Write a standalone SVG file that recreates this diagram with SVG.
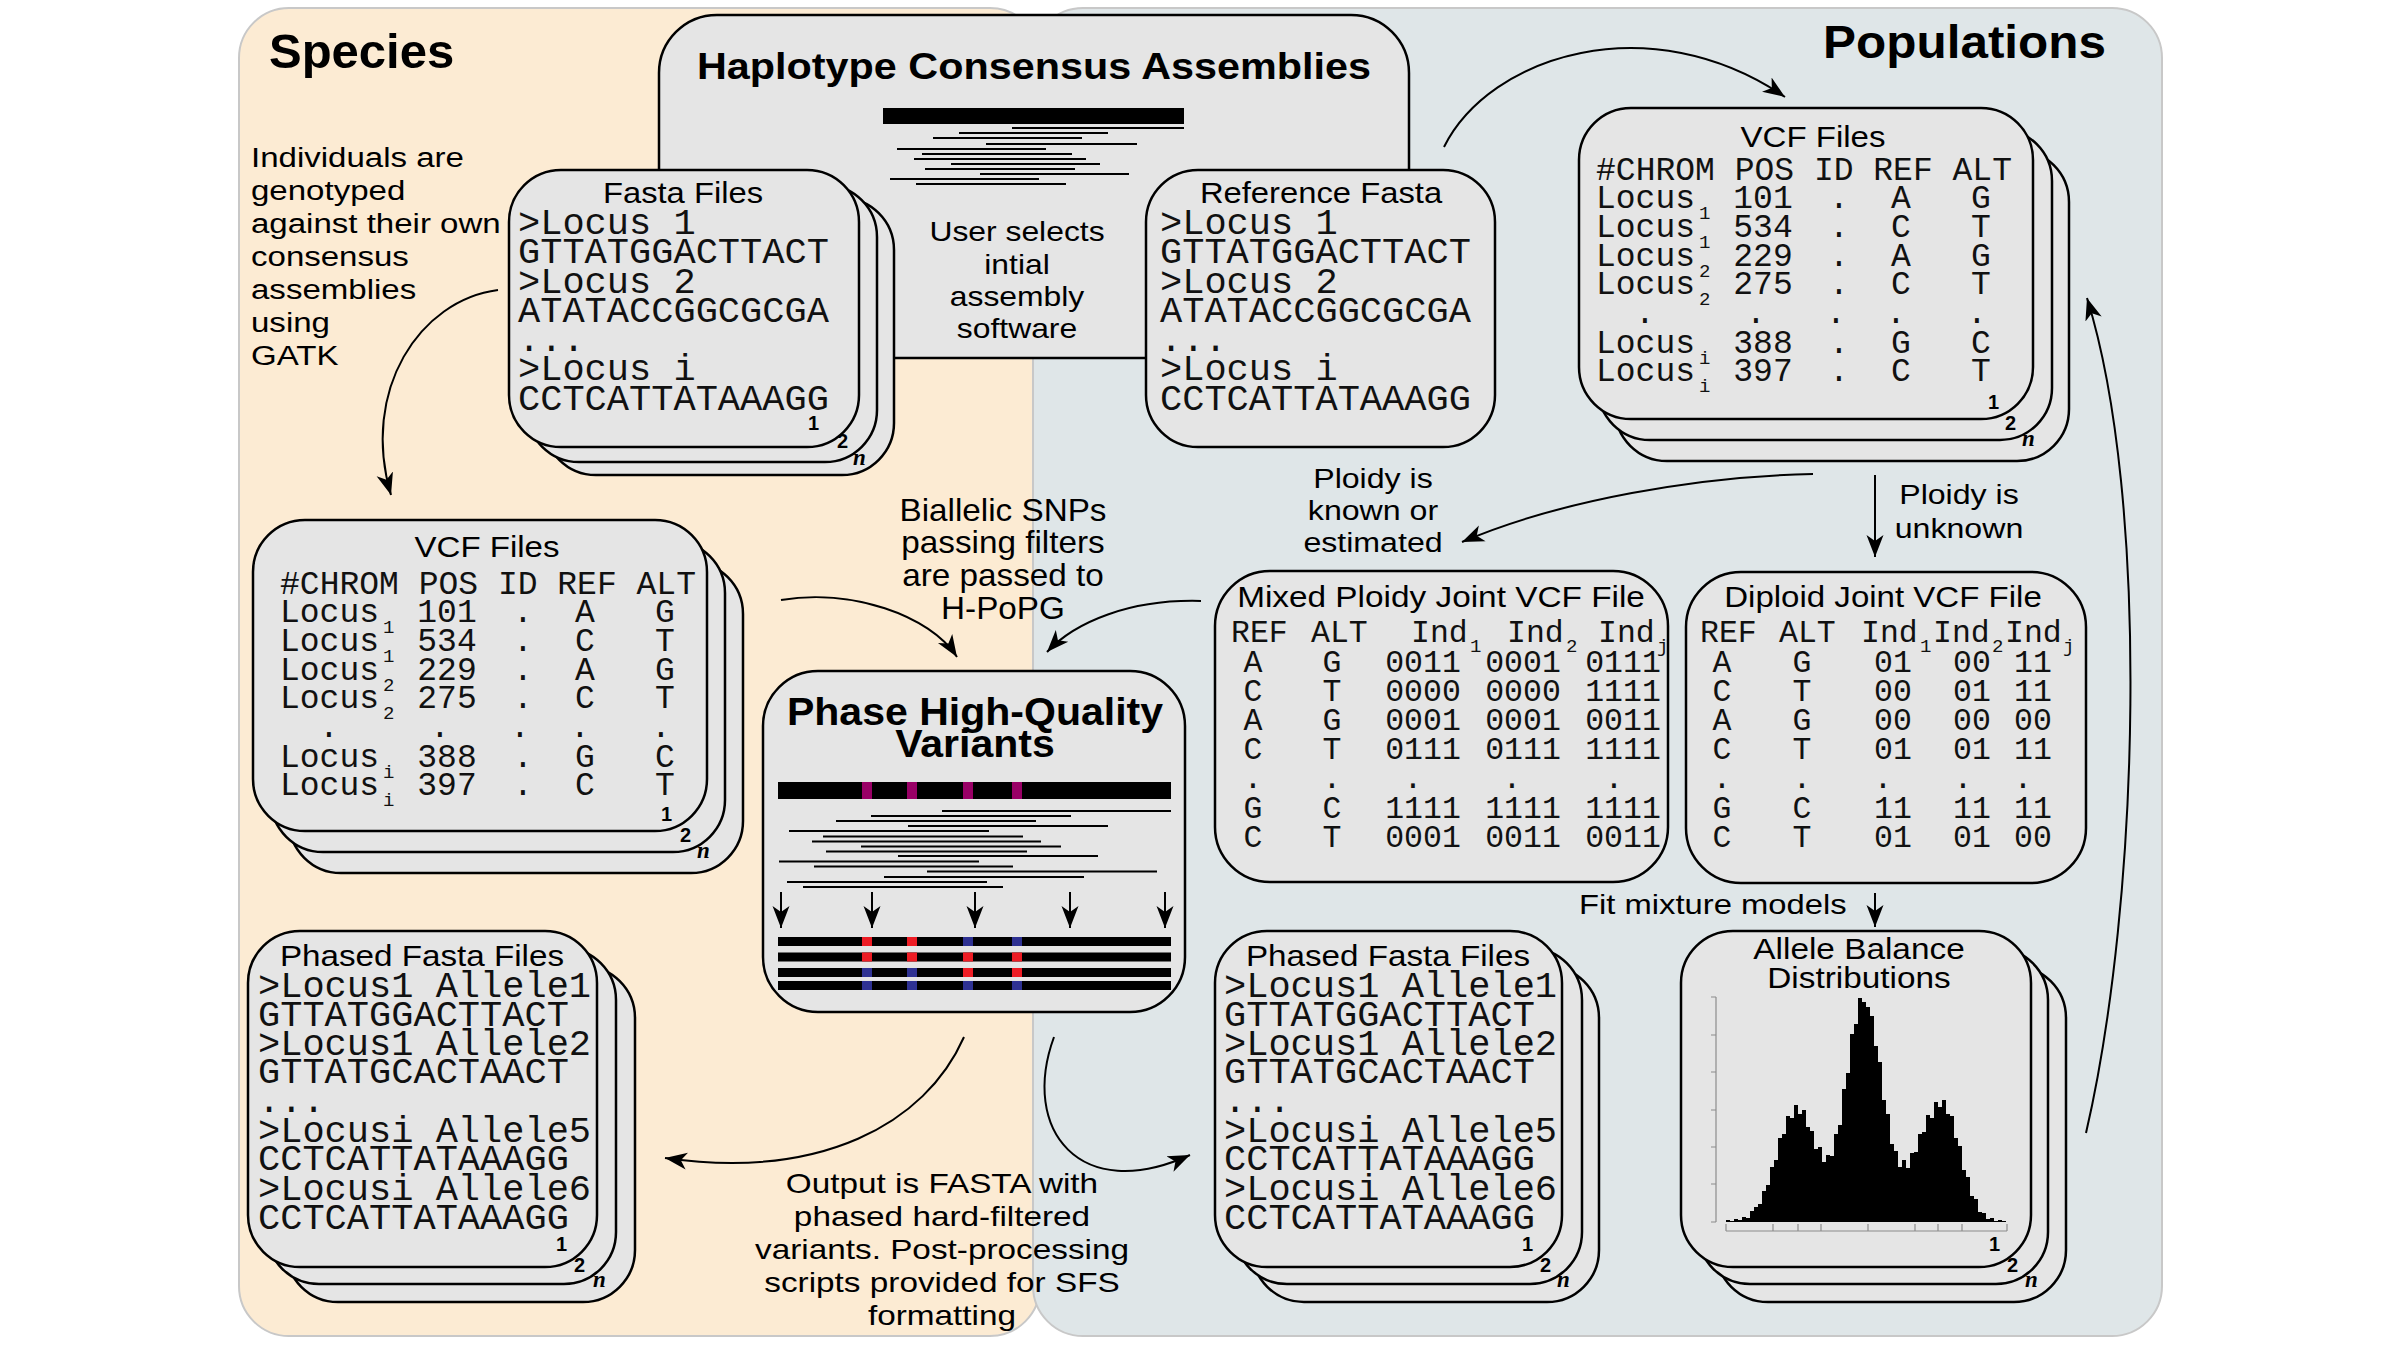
<svg xmlns="http://www.w3.org/2000/svg" width="2401" height="1351" viewBox="0 0 2401 1351">
<style>
.po{fill:#FCEBD3;stroke:#C8C8C8;stroke-width:2}
.pb{fill:#DFE6E8;stroke:#C8C8C8;stroke-width:2}
.card{fill:#E5E5E5;stroke:#000;stroke-width:2.5}
.s{font-family:"Liberation Sans",Arial,sans-serif;fill:#000}
.b{font-weight:bold}
.c{text-anchor:middle}
.e{text-anchor:end}
.ttl{font-size:29px}
.lab{font-size:27px}
.lab28{font-size:28px}
.h1{font-size:49px}
.h2{font-size:46px}
.h3{font-size:37px}
.h4{font-size:38px}
.m{font-family:"Liberation Mono","Courier New",monospace;fill:#111}
.m37{font-size:37px}
.m33{font-size:33px}
.m31{font-size:31.5px}
.sub{font-size:19px}
.num{font-family:"Liberation Sans",Arial,sans-serif;font-weight:bold;font-size:20px}
.nn{font-family:"Liberation Serif","Times New Roman",serif;font-weight:bold;font-style:italic;font-size:23px}
.rd{stroke:#000;stroke-width:1.8}
.conn{fill:none;stroke:#000;stroke-width:2;marker-end:url(#ah)}
.bar{fill:#000}
.mg{fill:#990066}
.rr{fill:#ED1C24}
.bb{fill:#2E3192}
.ax{stroke:#8C8C8C;stroke-width:1.2;fill:none}
</style>
<defs>
<marker id="ah" viewBox="0 0 24 20" refX="22" refY="10" markerWidth="24" markerHeight="20" markerUnits="userSpaceOnUse" orient="auto"><path d="M0,1.5 L22,10 L0,18.5 L6,10 Z" fill="#000"/></marker>
</defs>

<g id="panels">
<rect class="po" x="239" y="8" width="801" height="1328" rx="50"/>
<rect class="pb" x="1033" y="8" width="1129" height="1328" rx="50"/>
</g>

<g id="labels">
<text class="s b h1" x="269" y="68">Species</text>
<text class="s b h2 e" transform="translate(2106 0) scale(1.075 1)" y="58">Populations</text>
<text class="s lab28" transform="translate(251 0) scale(1.18 1)"><tspan x="0" y="167">Individuals are</tspan><tspan x="0" y="200">genotyped</tspan><tspan x="0" y="233">against their own</tspan><tspan x="0" y="266">consensus</tspan><tspan x="0" y="299">assemblies</tspan><tspan x="0" y="332">using</tspan><tspan x="0" y="365">GATK</tspan></text>
<text class="s c" font-size="32" transform="translate(1003 0) scale(1.04 1)"><tspan x="0" y="521">Biallelic SNPs</tspan><tspan x="0" y="553">passing filters</tspan><tspan x="0" y="586">are passed to</tspan><tspan x="0" y="619">H-PoPG</tspan></text>
<text class="s lab c" transform="translate(1373 0) scale(1.19 1)"><tspan x="0" y="488">Ploidy is</tspan><tspan x="0" y="520">known or</tspan><tspan x="0" y="552">estimated</tspan></text>
<text class="s lab c" transform="translate(1959 0) scale(1.19 1)"><tspan x="0" y="504">Ploidy is</tspan><tspan x="0" y="538">unknown</tspan></text>
<text class="s lab28" transform="translate(1579 0) scale(1.17 1)" x="0" y="914">Fit mixture models</text>
<text class="s lab28 c" transform="translate(942 0) scale(1.19 1)"><tspan x="0" y="1193">Output is FASTA with</tspan><tspan x="0" y="1226">phased hard-filtered</tspan><tspan x="0" y="1259">variants. Post-processing</tspan><tspan x="0" y="1292">scripts provided for SFS</tspan><tspan x="0" y="1325">formatting</tspan></text>
</g>

<g id="haplotype-consensus">
<rect class="card" x="659" y="15" width="750" height="343" rx="58"/>
<text class="s b h3 c" transform="translate(1034 0) scale(1.118 1)" x="0" y="79">Haplotype Consensus Assemblies</text>
<rect class="bar" x="883" y="108" width="301" height="16"/>
<g class="rd">
<line x1="1012" y1="128" x2="1184" y2="128"/>
<line x1="959" y1="133" x2="1108" y2="133"/>
<line x1="933" y1="138" x2="1082" y2="138"/>
<line x1="986" y1="144" x2="1137" y2="144"/>
<line x1="897" y1="149" x2="1046" y2="149"/>
<line x1="922" y1="154" x2="1072" y2="154"/>
<line x1="914" y1="159" x2="1086" y2="159"/>
<line x1="951" y1="164" x2="1100" y2="164"/>
<line x1="925" y1="169" x2="1075" y2="169"/>
<line x1="980" y1="174" x2="1129" y2="174"/>
<line x1="890" y1="179" x2="1039" y2="179"/>
<line x1="916" y1="184" x2="1066" y2="184"/>
</g>
<text class="s lab c" transform="translate(1017 0) scale(1.18 1)"><tspan x="0" y="241">User selects</tspan><tspan x="0" y="274">intial</tspan><tspan x="0" y="306">assembly</tspan><tspan x="0" y="338">software</tspan></text>
</g>

<g id="fasta-files">
<rect class="card" x="544" y="198" width="350" height="277" rx="52"/>
<rect class="card" x="527" y="185" width="350" height="277" rx="52"/>
<rect class="card" x="509" y="170" width="350" height="277" rx="52"/>
<text class="s ttl c" transform="translate(683 0) scale(1.13 1)" x="0" y="203">Fasta Files</text>
<text class="m m37"><tspan x="518" y="234">&gt;Locus 1</tspan><tspan x="518" y="263">GTTATGGACTTACT</tspan><tspan x="518" y="293">&gt;Locus 2</tspan><tspan x="518" y="322">ATATACCGGCGCGA</tspan><tspan x="518" y="351">...</tspan><tspan x="518" y="380">&gt;Locus i</tspan><tspan x="518" y="410">CCTCATTATAAAGG</tspan></text>
<text class="num"><tspan x="808" y="430">1</tspan><tspan x="837" y="448">2</tspan><tspan class="nn" x="853" y="465">n</tspan></text>
</g>

<g id="reference-fasta">
<rect class="card" x="1146" y="170" width="349" height="277" rx="52"/>
<text class="s ttl c" transform="translate(1321 0) scale(1.13 1)" x="0" y="203">Reference Fasta</text>
<text class="m m37"><tspan x="1160" y="234">&gt;Locus 1</tspan><tspan x="1160" y="263">GTTATGGACTTACT</tspan><tspan x="1160" y="293">&gt;Locus 2</tspan><tspan x="1160" y="322">ATATACCGGCGCGA</tspan><tspan x="1160" y="351">...</tspan><tspan x="1160" y="380">&gt;Locus i</tspan><tspan x="1160" y="410">CCTCATTATAAAGG</tspan></text>
</g>

<g id="species-vcf">
<rect class="card" x="289" y="562" width="454" height="311" rx="52"/>
<rect class="card" x="271" y="541" width="454" height="311" rx="52"/>
<rect class="card" x="253" y="520" width="454" height="311" rx="52"/>
<text class="s ttl c" transform="translate(487 0) scale(1.14 1)" x="0" y="557">VCF Files</text>
<text class="m m33 c"><tspan x="488" y="594">#CHROM POS ID REF ALT</tspan><tspan x="329.5" y="622">Locus</tspan><tspan class="sub" x="388.7" y="633">1</tspan><tspan x="447" y="622">101</tspan><tspan x="523" y="622">.</tspan><tspan x="585" y="622">A</tspan><tspan x="665" y="622">G</tspan><tspan x="329.5" y="651">Locus</tspan><tspan class="sub" x="388.7" y="662">1</tspan><tspan x="447" y="651">534</tspan><tspan x="523" y="651">.</tspan><tspan x="585" y="651">C</tspan><tspan x="665" y="651">T</tspan><tspan x="329.5" y="680">Locus</tspan><tspan class="sub" x="388.7" y="691">2</tspan><tspan x="447" y="680">229</tspan><tspan x="523" y="680">.</tspan><tspan x="585" y="680">A</tspan><tspan x="665" y="680">G</tspan><tspan x="329.5" y="708">Locus</tspan><tspan class="sub" x="388.7" y="719">2</tspan><tspan x="447" y="708">275</tspan><tspan x="523" y="708">.</tspan><tspan x="585" y="708">C</tspan><tspan x="665" y="708">T</tspan><tspan x="329" y="737">.</tspan><tspan x="440" y="737">.</tspan><tspan x="520" y="737">.</tspan><tspan x="580" y="737">.</tspan><tspan x="661" y="737">.</tspan><tspan x="329.5" y="767">Locus</tspan><tspan class="sub" x="388.7" y="778">i</tspan><tspan x="447" y="767">388</tspan><tspan x="523" y="767">.</tspan><tspan x="585" y="767">G</tspan><tspan x="665" y="767">C</tspan><tspan x="329.5" y="795">Locus</tspan><tspan class="sub" x="388.7" y="806">i</tspan><tspan x="447" y="795">397</tspan><tspan x="523" y="795">.</tspan><tspan x="585" y="795">C</tspan><tspan x="665" y="795">T</tspan></text>
<text class="num"><tspan x="661" y="821">1</tspan><tspan x="680" y="842">2</tspan><tspan class="nn" x="697" y="858">n</tspan></text>
</g>

<g id="population-vcf">
<rect class="card" x="1615" y="150" width="454" height="311" rx="52"/>
<rect class="card" x="1598" y="129" width="454" height="311" rx="52"/>
<rect class="card" x="1579" y="108" width="454" height="311" rx="52"/>
<text class="s ttl c" transform="translate(1813 0) scale(1.14 1)" x="0" y="147">VCF Files</text>
<text class="m m33 c"><tspan x="1804" y="180">#CHROM POS ID REF ALT</tspan><tspan x="1645.5" y="208">Locus</tspan><tspan class="sub" x="1704.7" y="219">1</tspan><tspan x="1763" y="208">101</tspan><tspan x="1839" y="208">.</tspan><tspan x="1901" y="208">A</tspan><tspan x="1981" y="208">G</tspan><tspan x="1645.5" y="237">Locus</tspan><tspan class="sub" x="1704.7" y="248">1</tspan><tspan x="1763" y="237">534</tspan><tspan x="1839" y="237">.</tspan><tspan x="1901" y="237">C</tspan><tspan x="1981" y="237">T</tspan><tspan x="1645.5" y="266">Locus</tspan><tspan class="sub" x="1704.7" y="277">2</tspan><tspan x="1763" y="266">229</tspan><tspan x="1839" y="266">.</tspan><tspan x="1901" y="266">A</tspan><tspan x="1981" y="266">G</tspan><tspan x="1645.5" y="294">Locus</tspan><tspan class="sub" x="1704.7" y="305">2</tspan><tspan x="1763" y="294">275</tspan><tspan x="1839" y="294">.</tspan><tspan x="1901" y="294">C</tspan><tspan x="1981" y="294">T</tspan><tspan x="1645" y="323">.</tspan><tspan x="1756" y="323">.</tspan><tspan x="1836" y="323">.</tspan><tspan x="1896" y="323">.</tspan><tspan x="1977" y="323">.</tspan><tspan x="1645.5" y="353">Locus</tspan><tspan class="sub" x="1704.7" y="364">i</tspan><tspan x="1763" y="353">388</tspan><tspan x="1839" y="353">.</tspan><tspan x="1901" y="353">G</tspan><tspan x="1981" y="353">C</tspan><tspan x="1645.5" y="381">Locus</tspan><tspan class="sub" x="1704.7" y="392">i</tspan><tspan x="1763" y="381">397</tspan><tspan x="1839" y="381">.</tspan><tspan x="1901" y="381">C</tspan><tspan x="1981" y="381">T</tspan></text>
<text class="num"><tspan x="1988" y="409">1</tspan><tspan x="2005" y="430">2</tspan><tspan class="nn" x="2022" y="446">n</tspan></text>
</g>

<g id="phase-variants">
<rect class="card" x="763" y="671" width="422" height="341" rx="55"/>
<text class="s b h4 c" transform="translate(975 0) scale(1.08 1)"><tspan x="0" y="725">Phase High-Quality</tspan><tspan x="0" y="757">Variants</tspan></text>
<rect class="bar" x="778" y="782" width="393" height="17"/>
<rect class="mg" x="862" y="782" width="10" height="17"/>
<rect class="mg" x="907" y="782" width="10" height="17"/>
<rect class="mg" x="963" y="782" width="10" height="17"/>
<rect class="mg" x="1012" y="782" width="10" height="17"/>
<g class="rd">
<line x1="942" y1="811" x2="1171" y2="811"/>
<line x1="871" y1="816" x2="1071" y2="816"/>
<line x1="836" y1="821" x2="1036" y2="821"/>
<line x1="908" y1="826" x2="1108" y2="826"/>
<line x1="789" y1="831" x2="989" y2="831"/>
<line x1="823" y1="836.5" x2="1023" y2="836.5"/>
<line x1="812" y1="841.5" x2="1041" y2="841.5"/>
<line x1="861" y1="846.5" x2="1061" y2="846.5"/>
<line x1="826" y1="851.5" x2="1027" y2="851.5"/>
<line x1="898" y1="856" x2="1098" y2="856"/>
<line x1="779" y1="861.5" x2="979" y2="861.5"/>
<line x1="814" y1="866.5" x2="1013" y2="866.5"/>
<line x1="927" y1="871.5" x2="1157" y2="871.5"/>
<line x1="884" y1="877" x2="1084" y2="877"/>
<line x1="787" y1="882" x2="987" y2="882"/>
<line x1="803" y1="887" x2="1003" y2="887"/>
</g>
<g class="conn">
<path d="M781 892 V928"/>
<path d="M872 892 V928"/>
<path d="M975 892 V928"/>
<path d="M1070 892 V928"/>
<path d="M1165 892 V928"/>
</g>
<rect class="bar" x="778" y="937" width="393" height="9"/>
<rect class="bar" x="778" y="952.5" width="393" height="9"/>
<rect class="bar" x="778" y="968" width="393" height="9"/>
<rect class="bar" x="778" y="981" width="393" height="9"/>
<rect class="rr" x="862" y="937" width="10" height="9"/><rect class="rr" x="907" y="937" width="10" height="9"/><rect class="bb" x="963" y="937" width="10" height="9"/><rect class="bb" x="1012" y="937" width="10" height="9"/>
<rect class="rr" x="862" y="952.5" width="10" height="9"/><rect class="rr" x="907" y="952.5" width="10" height="9"/><rect class="rr" x="963" y="952.5" width="10" height="9"/><rect class="rr" x="1012" y="952.5" width="10" height="9"/>
<rect class="bb" x="862" y="968" width="10" height="9"/><rect class="bb" x="907" y="968" width="10" height="9"/><rect class="rr" x="963" y="968" width="10" height="9"/><rect class="rr" x="1012" y="968" width="10" height="9"/>
<rect class="bb" x="862" y="981" width="10" height="9"/><rect class="bb" x="907" y="981" width="10" height="9"/><rect class="bb" x="963" y="981" width="10" height="9"/><rect class="bb" x="1012" y="981" width="10" height="9"/>
</g>

<g id="mixed-ploidy-vcf">
<rect class="card" x="1215" y="571" width="453" height="311" rx="55"/>
<text class="s ttl c" transform="translate(1441 0) scale(1.15 1)" x="0" y="607">Mixed Ploidy Joint VCF File</text>
<text class="m m31 c"><tspan x="1259.4" y="642">REF</tspan><tspan x="1339.4" y="642">ALT</tspan><tspan x="1439.4" y="642">Ind</tspan><tspan class="sub" x="1475.7" y="652">1</tspan><tspan x="1535.4" y="642">Ind</tspan><tspan class="sub" x="1571.7" y="652">2</tspan><tspan x="1626.4" y="642">Ind</tspan><tspan class="sub" x="1662.7" y="652">j</tspan><tspan x="1253" y="672">A</tspan><tspan x="1332" y="672">G</tspan><tspan x="1423" y="672">0011</tspan><tspan x="1523" y="672">0001</tspan><tspan x="1623" y="672">0111</tspan><tspan x="1253" y="701">C</tspan><tspan x="1332" y="701">T</tspan><tspan x="1423" y="701">0000</tspan><tspan x="1523" y="701">0000</tspan><tspan x="1623" y="701">1111</tspan><tspan x="1253" y="730">A</tspan><tspan x="1332" y="730">G</tspan><tspan x="1423" y="730">0001</tspan><tspan x="1523" y="730">0001</tspan><tspan x="1623" y="730">0011</tspan><tspan x="1253" y="759">C</tspan><tspan x="1332" y="759">T</tspan><tspan x="1423" y="759">0111</tspan><tspan x="1523" y="759">0111</tspan><tspan x="1623" y="759">1111</tspan><tspan x="1253" y="788">.</tspan><tspan x="1332" y="788">.</tspan><tspan x="1413" y="788">.</tspan><tspan x="1512" y="788">.</tspan><tspan x="1614" y="788">.</tspan><tspan x="1253" y="818">G</tspan><tspan x="1332" y="818">C</tspan><tspan x="1423" y="818">1111</tspan><tspan x="1523" y="818">1111</tspan><tspan x="1623" y="818">1111</tspan><tspan x="1253" y="847">C</tspan><tspan x="1332" y="847">T</tspan><tspan x="1423" y="847">0001</tspan><tspan x="1523" y="847">0011</tspan><tspan x="1623" y="847">0011</tspan></text>
</g>

<g id="diploid-vcf">
<rect class="card" x="1686" y="572" width="400" height="311" rx="55"/>
<text class="s ttl c" transform="translate(1883 0) scale(1.14 1)" x="0" y="607">Diploid Joint VCF File</text>
<text class="m m31 c"><tspan x="1728.4" y="642">REF</tspan><tspan x="1807.4" y="642">ALT</tspan><tspan x="1889.4" y="642">Ind</tspan><tspan class="sub" x="1925.7" y="652">1</tspan><tspan x="1961.4" y="642">Ind</tspan><tspan class="sub" x="1997.7" y="652">2</tspan><tspan x="2033.4" y="642">Ind</tspan><tspan class="sub" x="2068.7" y="652">j</tspan><tspan x="1722" y="672">A</tspan><tspan x="1802" y="672">G</tspan><tspan x="1893" y="672">01</tspan><tspan x="1972" y="672">00</tspan><tspan x="2033" y="672">11</tspan><tspan x="1722" y="701">C</tspan><tspan x="1802" y="701">T</tspan><tspan x="1893" y="701">00</tspan><tspan x="1972" y="701">01</tspan><tspan x="2033" y="701">11</tspan><tspan x="1722" y="730">A</tspan><tspan x="1802" y="730">G</tspan><tspan x="1893" y="730">00</tspan><tspan x="1972" y="730">00</tspan><tspan x="2033" y="730">00</tspan><tspan x="1722" y="759">C</tspan><tspan x="1802" y="759">T</tspan><tspan x="1893" y="759">01</tspan><tspan x="1972" y="759">01</tspan><tspan x="2033" y="759">11</tspan><tspan x="1722" y="788">.</tspan><tspan x="1802" y="788">.</tspan><tspan x="1883" y="788">.</tspan><tspan x="1963" y="788">.</tspan><tspan x="2023" y="788">.</tspan><tspan x="1722" y="818">G</tspan><tspan x="1802" y="818">C</tspan><tspan x="1893" y="818">11</tspan><tspan x="1972" y="818">11</tspan><tspan x="2033" y="818">11</tspan><tspan x="1722" y="847">C</tspan><tspan x="1802" y="847">T</tspan><tspan x="1893" y="847">01</tspan><tspan x="1972" y="847">01</tspan><tspan x="2033" y="847">00</tspan></text>
</g>

<g id="phased-fasta-species">
<rect class="card" x="286" y="966" width="349" height="336" rx="52"/>
<rect class="card" x="267" y="948" width="349" height="336" rx="52"/>
<rect class="card" x="248" y="931" width="349" height="336" rx="52"/>
<text class="s ttl c" transform="translate(422 0) scale(1.145 1)" x="0" y="966">Phased Fasta Files</text>
<text class="m m37"><tspan x="258" y="997">&gt;Locus1 Allele1</tspan><tspan x="258" y="1026">GTTATGGACTTACT</tspan><tspan x="258" y="1055">&gt;Locus1 Allele2</tspan><tspan x="258" y="1083">GTTATGCACTAACT</tspan><tspan x="258" y="1112">...</tspan><tspan x="258" y="1142">&gt;Locusi Allele5</tspan><tspan x="258" y="1170">CCTCATTATAAAGG</tspan><tspan x="258" y="1200">&gt;Locusi Allele6</tspan><tspan x="258" y="1229">CCTCATTATAAAGG</tspan></text>
<text class="num"><tspan x="556" y="1251">1</tspan><tspan x="574" y="1272">2</tspan><tspan class="nn" x="593" y="1287">n</tspan></text>
</g>

<g id="phased-fasta-populations">
<rect class="card" x="1252" y="966" width="347" height="336" rx="52"/>
<rect class="card" x="1235" y="948" width="347" height="336" rx="52"/>
<rect class="card" x="1215" y="931" width="347" height="336" rx="52"/>
<text class="s ttl c" transform="translate(1388 0) scale(1.145 1)" x="0" y="966">Phased Fasta Files</text>
<text class="m m37"><tspan x="1224" y="997">&gt;Locus1 Allele1</tspan><tspan x="1224" y="1026">GTTATGGACTTACT</tspan><tspan x="1224" y="1055">&gt;Locus1 Allele2</tspan><tspan x="1224" y="1083">GTTATGCACTAACT</tspan><tspan x="1224" y="1112">...</tspan><tspan x="1224" y="1142">&gt;Locusi Allele5</tspan><tspan x="1224" y="1170">CCTCATTATAAAGG</tspan><tspan x="1224" y="1200">&gt;Locusi Allele6</tspan><tspan x="1224" y="1229">CCTCATTATAAAGG</tspan></text>
<text class="num"><tspan x="1522" y="1251">1</tspan><tspan x="1540" y="1272">2</tspan><tspan class="nn" x="1557" y="1287">n</tspan></text>
</g>

<g id="allele-balance">
<rect class="card" x="1716" y="966" width="350" height="336" rx="52"/>
<rect class="card" x="1698" y="948" width="350" height="336" rx="52"/>
<rect class="card" x="1681" y="931" width="350" height="336" rx="52"/>
<text class="s ttl c" transform="translate(1859 0) scale(1.15 1)"><tspan x="0" y="959">Allele Balance</tspan><tspan x="0" y="988">Distributions</tspan></text>
<path class="ax" d="M1716 997 V1222 M1711 997 H1716 M1711 1035 H1716 M1711 1072 H1716 M1711 1110 H1716 M1711 1147 H1716 M1711 1184 H1716 M1711 1222 H1716"/>
<path class="ax" d="M1726 1231 H2007 M1726 1231 V1224 M1773 1231 V1224 M1798 1231 V1224 M1821 1231 V1224 M1868 1231 V1224 M1915 1231 V1224 M1938 1231 V1224 M1962 1231 V1224 M2007 1231 V1224"/>
<path fill="#000" d="M1726 1222 V1220 H1730 V1221 H1734 V1219 H1738 V1220 H1742 V1217 H1746 V1218 H1750 V1211 H1754 V1207 H1758 V1204 H1762 V1191 H1766 V1185 H1770 V1167 H1774 V1160 H1778 V1138 H1782 V1134 H1786 V1116 H1790 V1118 H1794 V1105 H1798 V1114 H1802 V1110 H1806 V1127 H1810 V1131 H1814 V1149 H1818 V1147 H1822 V1162 H1826 V1155 H1830 V1156 H1834 V1134 H1838 V1125 H1842 V1089 H1846 V1073 H1850 V1034 H1854 V1024 H1858 V998 H1862 V1002 H1866 V1007 H1870 V1016 H1874 V1046 H1878 V1062 H1882 V1100 H1886 V1114 H1890 V1144 H1894 V1151 H1898 V1167 H1902 V1160 H1906 V1168 H1910 V1153 H1914 V1152 H1918 V1134 H1922 V1132 H1926 V1115 H1930 V1118 H1934 V1102 H1938 V1107 H1942 V1100 H1946 V1114 H1950 V1116 H1954 V1138 H1958 V1146 H1962 V1170 H1966 V1177 H1970 V1196 H1974 V1199 H1978 V1212 H1982 V1213 H1986 V1219 H1990 V1218 H1994 V1221 H1998 V1220 H2002 V1221 H2006 V1222 Z"/>
<text class="num"><tspan x="1989" y="1251">1</tspan><tspan x="2007" y="1272">2</tspan><tspan class="nn" x="2025" y="1287">n</tspan></text>
</g>

<g id="connectors">
<path class="conn" d="M498 290 C420 300 360 390 391 495"/>
<path class="conn" d="M781 600 C850 588 930 615 957 657"/>
<path class="conn" d="M1201 601 C1130 599 1075 622 1047 652"/>
<path class="conn" d="M964 1037 C925 1125 820 1180 665 1158"/>
<path class="conn" d="M1054 1037 C1020 1130 1080 1205 1190 1155"/>
<path class="conn" d="M1444 147 C1490 55 1650 5 1785 97"/>
<path class="conn" d="M2086 1133 C2140 900 2150 500 2087 298"/>
<path class="conn" d="M1813 474 C1700 476 1560 500 1462 542"/>
<path class="conn" d="M1875 475 V557"/>
<path class="conn" d="M1875 893 V927"/>
</g>
</svg>
